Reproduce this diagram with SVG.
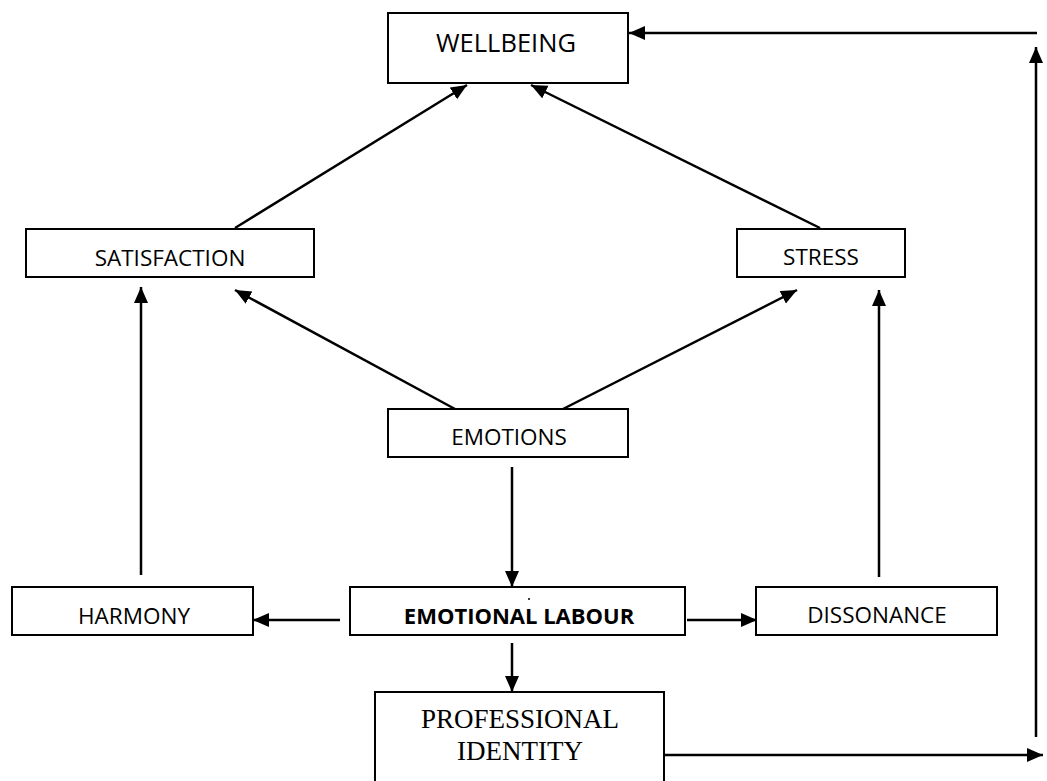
<svg xmlns="http://www.w3.org/2000/svg" width="1047" height="781" viewBox="0 0 1047 781">
<style>
.box{fill:#fff;stroke:#000;stroke-width:2}
.t{font-family:"Open Sans","Liberation Sans",sans-serif;font-size:22.5px;fill:#000;text-anchor:middle}
.tb{font-family:"Open Sans","Liberation Sans",sans-serif;font-size:22px;font-weight:bold;fill:#000;text-anchor:middle}
.ts{font-family:"Liberation Serif","Times New Roman",serif;font-size:27px;fill:#000;text-anchor:middle}
.c{stroke:#000;stroke-width:2.5;fill:none;marker-end:url(#ah)}
</style>
<defs>
<marker id="ah" markerUnits="userSpaceOnUse" markerWidth="18" markerHeight="16" refX="16" refY="7" orient="auto">
<path d="M0,0 L16,7 L0,14 Z" fill="#000"/>
</marker>
</defs>
<rect width="1047" height="781" fill="#fff"/>
<g id="connectors">
<line class="c" x1="235" y1="228" x2="467" y2="85"/>
<line class="c" x1="820" y1="228" x2="531" y2="85"/>
<line class="c" x1="455" y1="409" x2="235" y2="290"/>
<line class="c" x1="563" y1="409" x2="797" y2="290"/>
<line class="c" x1="141" y1="575" x2="141" y2="287"/>
<line class="c" x1="879" y1="577" x2="879" y2="290"/>
<line class="c" x1="512" y1="467" x2="512" y2="587"/>
<line class="c" x1="340" y1="620" x2="253" y2="620"/>
<line class="c" x1="687" y1="620" x2="757" y2="620"/>
<line class="c" x1="512" y1="643" x2="512" y2="692"/>
<line class="c" x1="664" y1="755" x2="1043" y2="755"/>
<line class="c" x1="1036" y1="737" x2="1036" y2="47"/>
<line class="c" x1="1037" y1="33" x2="629" y2="33"/>
</g>
<g id="wellbeing">
<rect class="box" x="388" y="13" width="240" height="70"/>
<text class="t" x="506" y="52" style="font-size:25.5px">WELLBEING</text>
</g>
<g id="satisfaction">
<rect class="box" x="26" y="229" width="288" height="48"/>
<text class="t" x="170" y="266">SATISFACTION</text>
</g>
<g id="stress">
<rect class="box" x="737" y="229" width="168" height="48"/>
<text class="t" x="821" y="265">STRESS</text>
</g>
<g id="emotions">
<rect class="box" x="388" y="409" width="240" height="48"/>
<text class="t" x="509" y="445">EMOTIONS</text>
</g>
<g id="harmony">
<rect class="box" x="12" y="587" width="241" height="48"/>
<text class="t" x="134" y="624">HARMONY</text>
</g>
<g id="emotional-labour">
<rect class="box" x="350" y="587" width="335" height="48"/>
<text class="tb" x="519" y="624">EMOTIONAL LABOUR</text>
<circle cx="529" cy="599" r="1" fill="#000"/>
</g>
<g id="dissonance">
<rect class="box" x="756" y="587" width="241" height="48"/>
<text class="t" x="877" y="623">DISSONANCE</text>
</g>
<g id="professional-identity">
<rect class="box" x="375" y="692" width="289" height="120"/>
<text class="ts" x="520" y="728">PROFESSIONAL</text>
<text class="ts" x="520" y="760">IDENTITY</text>
</g>
</svg>
